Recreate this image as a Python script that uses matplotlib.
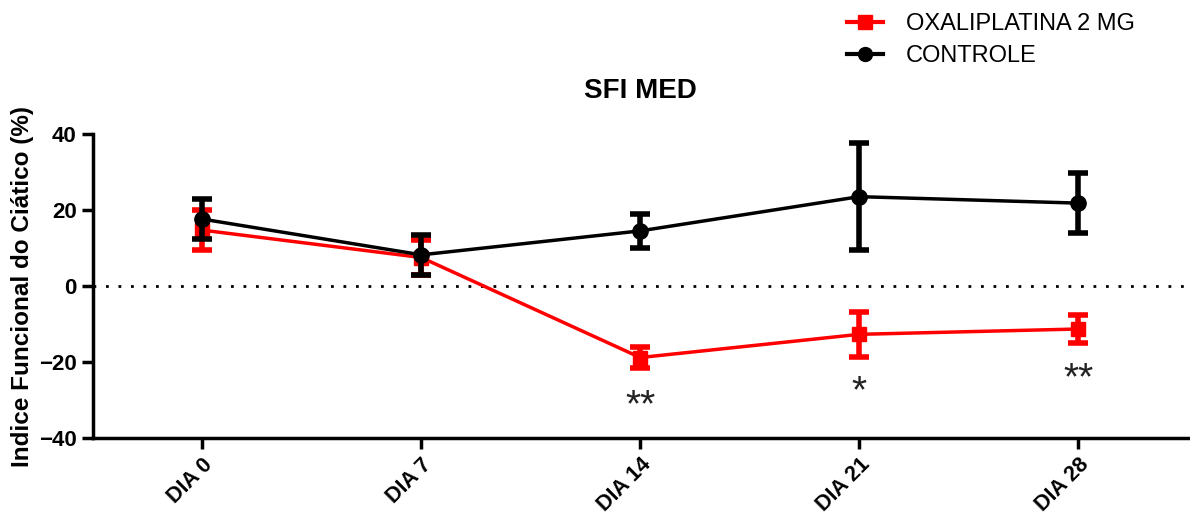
import numpy as np
import matplotlib
matplotlib.use("Agg")
import matplotlib.pyplot as plt
from matplotlib.lines import Line2D

plt.rcParams['font.family'] = ['Liberation Sans', 'DejaVu Sans']

dias = ['DIA 0', 'DIA 7', 'DIA 14', 'DIA 21', 'DIA 28']
oxa_media = [14.7, 7.5, -18.8, -12.7, -11.3]
oxa_erro = [5.2, 4.5, 2.8, 6.0, 3.7]
ctrl_media = [17.6, 8.2, 14.5, 23.5, 21.8]
ctrl_erro = [5.2, 5.2, 4.5, 14.0, 7.8]
asteriscos = ['**', '*', '**']
pos_asteriscos = [2, 3, 4]
y_asteriscos = [-31.5, -28.0, -24.5]

x = np.arange(len(dias))

fig = plt.figure(figsize=(11.9, 5.21), dpi=100)
ax = fig.add_axes([0.078, 0.159, 0.920, 0.584])

ax.axhline(0, color='black', linestyle=(0, (1, 3.5)), linewidth=2, zorder=1)

ax.errorbar(x, ctrl_media, yerr=ctrl_erro, color='black', marker='o', markersize=11,
            linewidth=2.5, elinewidth=4, capsize=7, capthick=4, zorder=3)
ax.errorbar(x, oxa_media, yerr=oxa_erro, color='#ff0000', marker='s', markersize=10,
            linewidth=2.5, elinewidth=4, capsize=7, capthick=4, zorder=2)

for p, s, yy in zip(pos_asteriscos, asteriscos, y_asteriscos):
    ax.text(p, yy, s, ha='center', va='center', fontsize=28, color='#222222')

ax.set_xlim(-0.5, 4.5)
ax.set_ylim(-40, 40)
ax.set_yticks([-40, -20, 0, 20, 40])
ax.set_xticks(x)
ax.set_xticklabels(dias, rotation=45, ha='right', rotation_mode='anchor',
                   fontsize=15.5, fontweight='bold')
for lab in ax.get_yticklabels():
    lab.set_fontsize(16)
    lab.set_fontweight('bold')

for s in ['top', 'right']:
    ax.spines[s].set_visible(False)
for s in ['left', 'bottom']:
    ax.spines[s].set_linewidth(2.5)
ax.tick_params(axis='both', width=2.5, length=8, direction='out')

ax.set_ylabel('Indice Funcional do Ciático (%)', fontsize=17.5, fontweight='bold')
ax.set_title('SFI MED', fontsize=20, fontweight='bold', pad=26)

handles = [Line2D([], [], color='#ff0000', marker='s', markersize=10, linewidth=3),
           Line2D([], [], color='black', marker='o', markersize=10, linewidth=3)]
labels = ['OXALIPLATINA 2 MG', 'CONTROLE']
fig.legend(handles, labels, loc='upper left', bbox_to_anchor=(0.694, 1.015),
           frameon=False, fontsize=17, handlelength=1.5, handletextpad=1.0,
           labelspacing=0.4)

fig.savefig('out.png', dpi=100)
